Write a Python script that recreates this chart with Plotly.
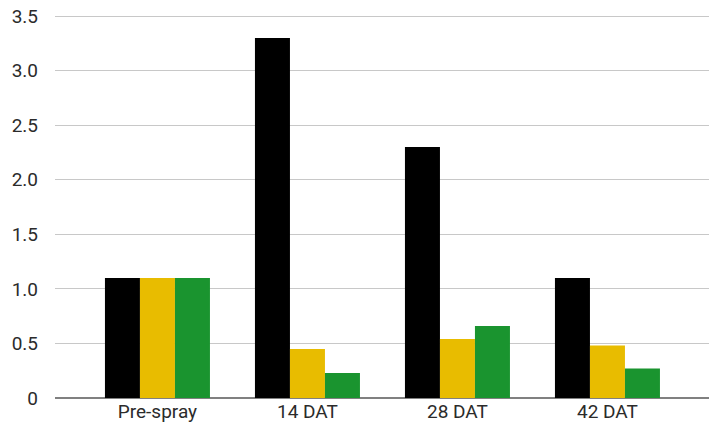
import plotly.graph_objects as go

categories = ["Pre-spray", "14 DAT", "28 DAT", "42 DAT"]
series_black = [1.1, 3.3, 2.3, 1.1]
series_gold = [1.1, 0.45, 0.54, 0.48]
series_green = [1.1, 0.23, 0.66, 0.27]
y_ticks = [0, 0.5, 1.0, 1.5, 2.0, 2.5, 3.0, 3.5]
y_tick_labels = ["0", "0.5", "1.0", "1.5", "2.0", "2.5", "3.0", "3.5"]

colors = ["#000000", "#E8BC00", "#1A942F"]

fig = go.Figure()
for vals, c in zip([series_black, series_gold, series_green], colors):
    fig.add_trace(go.Bar(x=categories, y=vals, marker=dict(color=c, line=dict(width=0)),
                         showlegend=False))

font_family = "Roboto, sans-serif"
fig.update_layout(
    width=709, height=434,
    margin=dict(l=55, r=0, t=15, b=36, autoexpand=False),
    paper_bgcolor="white", plot_bgcolor="white",
    barmode="group", bargap=0.3, bargroupgap=0,
    font=dict(family=font_family, size=19, color="#2b2b2b"),
    xaxis=dict(range=[-0.683, 3.677], showgrid=False, showline=False, zeroline=False,
               ticks="", automargin=False, tickfont=dict(size=19, color="#2b2b2b")),
    yaxis=dict(range=[0, 3.51], tickvals=y_ticks, ticktext=y_tick_labels,
               showgrid=True, gridcolor="#C8C8C8", gridwidth=1,
               zeroline=True, zerolinecolor="#808080", zerolinewidth=1.5,
               showline=False, ticks="", ticklabelstandoff=16,
               automargin=False,
               tickfont=dict(size=19, color="#2b2b2b")),
)
fig.write_html("out.html", config={"displayModeBar": False},
               post_script="document.body.style.margin='0px';")
